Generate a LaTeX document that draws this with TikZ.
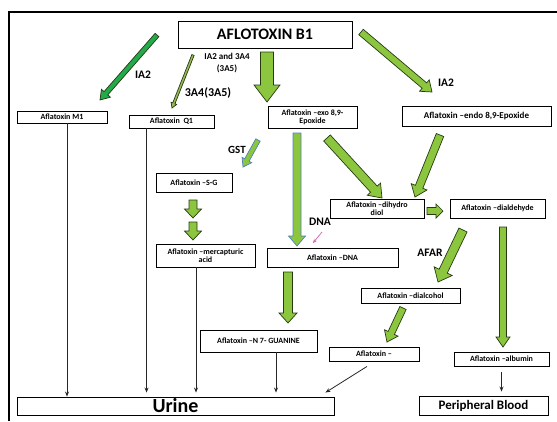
\documentclass[tikz,border=0pt]{standalone}
\usepackage{fontspec}
\setmainfont{Carlito}
\usetikzlibrary{calc,arrows.meta}
\definecolor{lg}{HTML}{8CC63F}
\definecolor{dg}{HTML}{22AA4B}
\definecolor{og}{HTML}{9BBB59}
\definecolor{bl}{HTML}{4F81BD}
\definecolor{pk}{HTML}{D060B0}
\definecolor{ol}{HTML}{263A12}
\newcommand\barrow[6]{%
 \draw[#1] ($(#2)!#4!90:(#3)$) -- ($(#3)!#6!(#2)!#4!90:(#3)$) -- ($(#3)!#6!(#2)!#5!90:(#3)$) -- (#3)
   -- ($(#3)!#6!(#2)!#5!-90:(#3)$) -- ($(#3)!#6!(#2)!#4!-90:(#3)$) -- ($(#2)!#4!-90:(#3)$) -- cycle;}
\tikzset{
 box/.style={draw=black, line width=0.9pt, fill=white, inner sep=0pt, align=center,
   font=\bfseries\fontsize{8}{8.2}\selectfont},
 lab/.style={inner sep=0pt, align=center, font=\bfseries\fontsize{11.5}{12}\selectfont},
 gar/.style={fill=lg, draw=ol, line width=0.7pt, line join=miter},
 thinarr/.style={draw=black!85, line width=0.8pt, -{Stealth[length=5pt,width=4pt]}}
}
\begin{document}
\begin{tikzpicture}[x=1pt,y=-1pt]
\useasboundingbox (0,0) rectangle (557,421);
% frame
\draw[line width=1.8pt] (9,421) -- (9,12) -- (557,12);
% boxes
\node[box, minimum width=174pt, minimum height=27pt, font=\bfseries\fontsize{16}{17}\selectfont] (b1) at (265,34.5) {AFLOTOXIN B1};
\node[box, minimum width=90pt, minimum height=12pt] (m1) at (62,117) {Aflatoxin M1};
\node[box, minimum width=85pt, minimum height=13pt] (q1) at (171.5,121.5) {Aflatoxin\ \ Q1};
\node[box, minimum width=89pt, minimum height=22pt] (exo) at (312.5,117) {Aflatoxin --exo 8,9-\\Epoxide};
\node[box, minimum width=149pt, minimum height=20pt, font=\bfseries\fontsize{9}{9}\selectfont] (endo) at (476.5,116) {Aflatoxin --endo 8,9-Epoxide};
\node[box, minimum width=76pt, minimum height=19pt] (sg) at (194,182.5) {Aflatoxin --S-G};
\node[box, minimum width=99pt, minimum height=23pt] (merc) at (205.5,255.5) {Aflatoxin --mercapturic\\acid};
\node[box, minimum width=94pt, minimum height=19pt] (diol) at (377,208.5) {Aflatoxin --dihydro\\diol};
\node[box, minimum width=95pt, minimum height=19pt] (dial) at (497.5,208.5) {Aflatoxin --dialdehyde};
\node[box, minimum width=131pt, minimum height=19pt] (dna) at (332.5,257.5) {Aflatoxin --DNA};
\node[box, minimum width=99pt, minimum height=15pt] (alc) at (410.5,295.5) {Aflatoxin --dialcohol};
\node[box, minimum width=117pt, minimum height=22pt] (n7) at (258.5,341) {Aflatoxin --N 7- GUANINE};
\node[box, minimum width=90pt, minimum height=14pt] (am) at (374,354) {Aflatoxin --};
\node[box, minimum width=95pt, minimum height=14pt] (alb) at (501.5,359) {Aflatoxin --albumin};
\node[box, minimum width=317pt, minimum height=18pt, font=\bfseries\fontsize{20}{20}\selectfont] (urine) at (175.5,406) {Urine};
\node[box, minimum width=129pt, minimum height=19pt, font=\bfseries\fontsize{13}{14}\selectfont] (pb) at (483.5,405.5) {Peripheral Blood};
% labels
\node[lab] (l1) at (143,75) {IA2};
\node[lab, font=\bfseries\fontsize{9}{12}\selectfont] (l2) at (227,63.5) {IA2 and 3A4\\(3A5)};
\node[lab, font=\bfseries\fontsize{12}{12}\selectfont] (l3) at (208,93) {3A4(3A5)};
\node[lab] (l4) at (446,83) {IA2};
\node[lab, font=\bfseries\fontsize{11}{12}\selectfont] (l5) at (237,150) {GST};
\node[lab] (l6) at (320,222) {DNA};
\node[lab] (l7) at (430,253) {AFAR};
% block arrow end points
\coordinate (a1s) at (157,35);  \coordinate (a1e) at (100,100);
\coordinate (a2s) at (193,55);  \coordinate (a2e) at (172,108);
\coordinate (a3s) at (267,52);  \coordinate (a3e) at (267,102);
\coordinate (a4s) at (361,32);  \coordinate (a4e) at (432,92);
\coordinate (a5s) at (258,140); \coordinate (a5e) at (243,167);
\coordinate (a6s) at (297,133); \coordinate (a6e) at (297,246);
\coordinate (a7s) at (327,138); \coordinate (a7e) at (382,198);
\coordinate (a8s) at (440,135); \coordinate (a8e) at (415,197);
\coordinate (a9s) at (427,211); \coordinate (a9e) at (443,211);
\coordinate (a10s) at (463,230); \coordinate (a10e) at (438,282);
\coordinate (a11s) at (503,227); \coordinate (a11e) at (503,347);
\coordinate (a12s) at (403,308); \coordinate (a12e) at (387,342);
\coordinate (a13s) at (288,272); \coordinate (a13e) at (288,323);
\coordinate (a14s) at (193,200); \coordinate (a14e) at (193,218);
\coordinate (a15s) at (193,222); \coordinate (a15e) at (193,240);
\coordinate (pks) at (322,232); \coordinate (pke) at (313,243);
% block arrows
\barrow{gar, fill=dg}{a1s}{a1e}{2.5pt}{6pt}{9pt}
\barrow{gar, fill=og}{a2s}{a2e}{1.2pt}{3pt}{5pt}
\barrow{gar}{a3s}{a3e}{6.5pt}{13pt}{17pt}
\barrow{gar}{a4s}{a4e}{3.5pt}{7.5pt}{10pt}
\barrow{gar, draw=bl}{a5s}{a5e}{2.5pt}{5.5pt}{8pt}
\barrow{gar, draw=bl}{a6s}{a6e}{4pt}{8.5pt}{10pt}
\barrow{gar}{a7s}{a7e}{4.5pt}{9pt}{12pt}
\barrow{gar}{a8s}{a8e}{4pt}{8.5pt}{11pt}
\barrow{gar}{a9s}{a9e}{3.5pt}{7pt}{7pt}
\barrow{gar}{a10s}{a10e}{4.5pt}{10pt}{12pt}
\barrow{gar}{a11s}{a11e}{3.5pt}{7pt}{10pt}
\barrow{gar}{a12s}{a12e}{3.5pt}{7.5pt}{10pt}
\barrow{gar}{a13s}{a13e}{4.5pt}{9pt}{10pt}
\barrow{gar}{a14s}{a14e}{4pt}{8.5pt}{9pt}
\barrow{gar}{a15s}{a15e}{4pt}{8.5pt}{9pt}
\draw[pk, line width=0.7pt, -{Stealth[length=4pt,width=3.5pt]}] (pks) -- (pke);
% thin arrows to urine / blood
\draw[thinarr] ([xshift=5pt]m1.south) -- ([xshift=5pt]m1.south |- urine.north);
\draw[thinarr, shorten >=4pt] ([xshift=18pt]q1.south west) -- ([xshift=18pt]q1.south west |- urine.north);
\draw[thinarr, shorten >=4pt] ([xshift=-9.5pt]merc.south) -- ([xshift=-9.5pt]merc.south |- urine.north);
\draw[thinarr, shorten >=4pt] ([xshift=17.5pt]n7.south) -- ([xshift=17.5pt]n7.south |- urine.north);
\draw[thinarr] ([shift={(-7pt,-5pt)}]am.south) -- ([shift={(-9pt,4pt)}]urine.north east);
\draw[thinarr] ([yshift=-6pt]alb.south) -- ([yshift=4pt]alb.south |- pb.north);
\end{tikzpicture}
\end{document}
